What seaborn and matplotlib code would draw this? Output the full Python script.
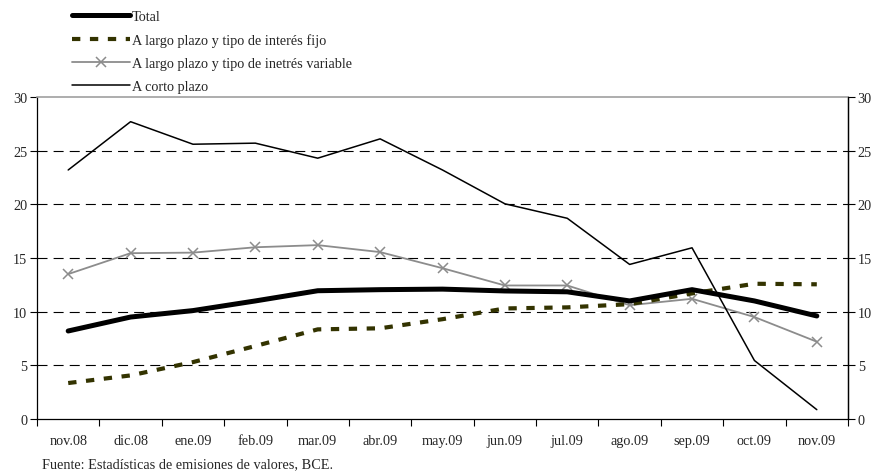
import matplotlib
matplotlib.use("Agg")
import matplotlib.pyplot as plt
import seaborn as sns
import pandas as pd
import numpy as np

months = ["nov.08", "dic.08", "ene.09", "feb.09", "mar.09", "abr.09", "may.09",
          "jun.09", "jul.09", "ago.09", "sep.09", "oct.09", "nov.09"]
total = [8.2, 9.5, 10.1, 11.0, 11.95, 12.05, 12.1, 11.93, 11.85, 11.0, 12.05, 11.0, 9.6]
fijo = [3.35, 4.06, 5.3, 6.8, 8.35, 8.45, 9.3, 10.3, 10.4, 10.7, 11.7, 12.6, 12.55]
variable = [13.5, 15.45, 15.5, 16.0, 16.2, 15.55, 14.05, 12.44, 12.44, 10.6, 11.2, 9.5, 7.2]
corto = [23.2, 27.7, 25.6, 25.7, 24.3, 26.1, 23.2, 20.05, 18.7, 14.4, 15.95, 5.45, 0.87]

labels = ["Total", "A largo plazo y tipo de interés fijo",
          "A largo plazo y tipo de inetrés variable", "A corto plazo"]
yticks = [0, 5, 10, 15, 20, 25, 30]
source = "Fuente: Estadísticas de emisiones de valores, BCE."

FS = 10.3

sns.set_theme(style="white")
plt.rcParams['font.family'] = ['Liberation Serif', 'DejaVu Serif']
plt.rcParams['font.size'] = FS

fig = plt.figure(figsize=(8.76, 4.77), dpi=100)
ax = fig.add_axes([37/876, 1 - 420/477, (848-37)/876, (420-98)/477])

x = np.arange(len(months))
df = pd.DataFrame({"x": x, "total": total, "fijo": fijo, "variable": variable, "corto": corto})

sns.lineplot(data=df, x="x", y="total", ax=ax, color="black", linewidth=3.6,
             solid_capstyle="round", label=labels[0], zorder=5)
sns.lineplot(data=df, x="x", y="fijo", ax=ax, color="#333300", linewidth=3.0,
             dashes=False, label=labels[1], zorder=4)
ax.lines[-1].set_dashes([2.0, 2.3])
sns.lineplot(data=df, x="x", y="variable", ax=ax, color="#8c8c8c", linewidth=1.3,
             marker="x", markersize=7, markeredgewidth=1.1, markeredgecolor="#8c8c8c",
             label=labels[2], zorder=3)
sns.lineplot(data=df, x="x", y="corto", ax=ax, color="black", linewidth=1.1,
             label=labels[3], zorder=6)

ax.set_xlim(-0.5, len(months) - 0.5)
ax.set_ylim(0, 30)
ax.set_xlabel("")
ax.set_ylabel("")
ax.set_yticks(yticks)
ax.set_yticklabels([str(v) for v in yticks], fontsize=FS)
ax.set_xticks(x)
ax.set_xticklabels(months, fontsize=FS)
ax.set_xticks(np.arange(-0.5, len(months)), minor=True)
ax.tick_params(axis="x", which="major", length=0, pad=11)
ax.tick_params(axis="x", which="minor", length=5, width=0.8, color="black", direction="out", bottom=True)
ax.tick_params(axis="y", which="major", length=5, width=0.8, color="black", direction="out", left=True, pad=2)

for v in yticks[1:-1]:
    ax.axhline(v, color="black", linestyle=(0, (9, 5.5)), linewidth=0.8, zorder=1)

for s in ["left", "right", "bottom"]:
    ax.spines[s].set_color("black")
    ax.spines[s].set_linewidth(0.9)
ax.spines["top"].set_color("#a0a0a0")
ax.spines["top"].set_linewidth(1.2)

ax2 = ax.twinx()
ax2.set_ylim(0, 30)
ax2.set_yticks(yticks)
ax2.set_yticklabels([str(v) for v in yticks], fontsize=FS)
ax2.tick_params(axis="y", length=5, width=0.8, color="black", direction="out", right=True, pad=2)
for s in ax2.spines.values():
    s.set_visible(False)
ax2.spines["right"].set_visible(True)
ax2.spines["right"].set_color("black")
ax2.spines["right"].set_linewidth(0.9)
ax2.grid(False)

handles, labs = ax.get_legend_handles_labels()
ax.get_legend().remove()
leg = fig.legend(handles, labs, loc="upper left", bbox_to_anchor=(66/876, 1 - 5/477),
                 frameon=False, fontsize=FS, handlelength=4.1, handletextpad=0.1,
                 labelspacing=0.72, borderaxespad=0)

fig.text(42/876, 1 - 465/477, source, fontsize=FS, va="center", ha="left")

fig.savefig("out.png", dpi=100)
